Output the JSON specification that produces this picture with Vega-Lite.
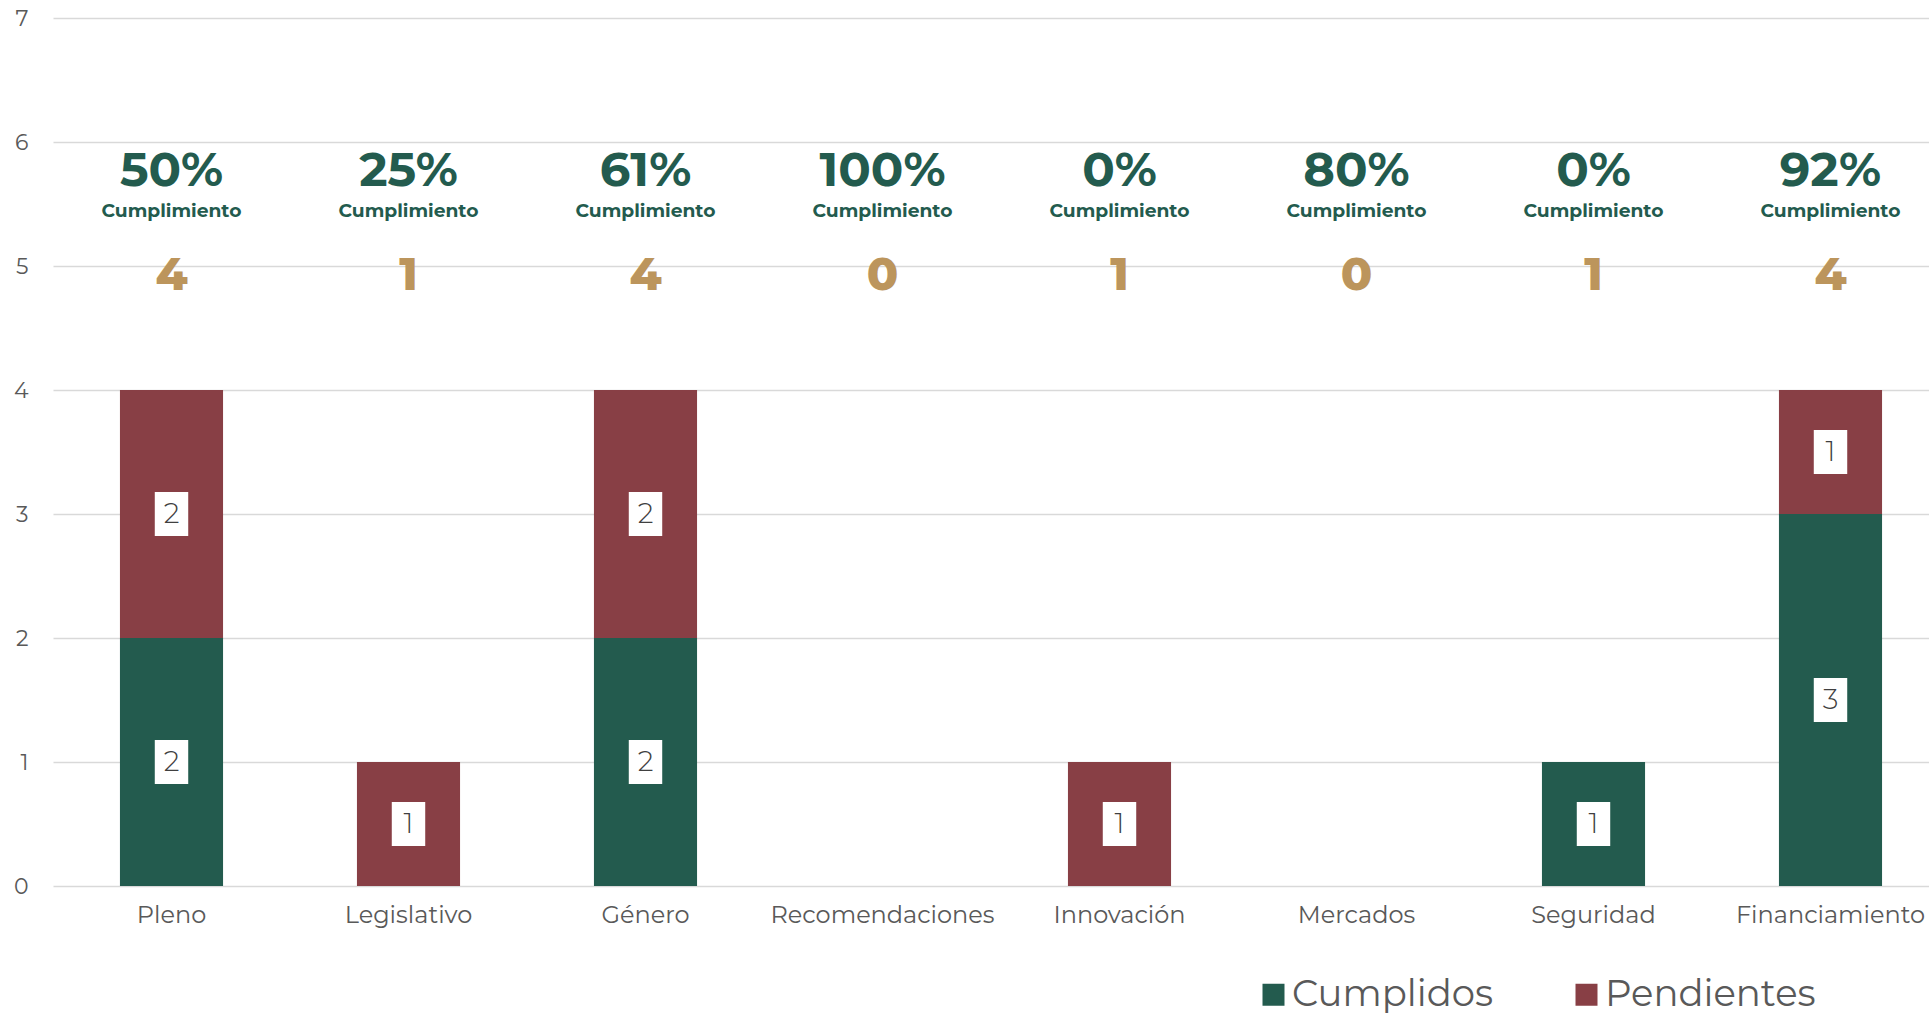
{
  "$schema": "https://vega.github.io/schema/vega-lite/v6.json",
  "width": 1876,
  "height": 868,
  "autosize": {"type": "none"},
  "padding": {"left": 53, "top": 18, "right": 0, "bottom": 131},
  "background": "white",
  "config": {"view": {"stroke": null}, "font": "Montserrat, Inter, sans-serif"},
  "datasets": {
    "seg": [
      {"cat": "Pleno", "estado": "Cumplidos", "valor": 2},
      {"cat": "Pleno", "estado": "Pendientes", "valor": 2},
      {"cat": "Legislativo", "estado": "Pendientes", "valor": 1},
      {"cat": "Género", "estado": "Cumplidos", "valor": 2},
      {"cat": "Género", "estado": "Pendientes", "valor": 2},
      {"cat": "Innovación", "estado": "Pendientes", "valor": 1},
      {"cat": "Seguridad", "estado": "Cumplidos", "valor": 1},
      {"cat": "Financiamiento", "estado": "Cumplidos", "valor": 3},
      {"cat": "Financiamiento", "estado": "Pendientes", "valor": 1}
    ],
    "cats": [
      {"cat": "Pleno", "pct": 0.5, "total": 4},
      {"cat": "Legislativo", "pct": 0.25, "total": 1},
      {"cat": "Género", "pct": 0.61, "total": 4},
      {"cat": "Recomendaciones", "pct": 1.0, "total": 0},
      {"cat": "Innovación", "pct": 0.0, "total": 1},
      {"cat": "Mercados", "pct": 0.8, "total": 0},
      {"cat": "Seguridad", "pct": 0.0, "total": 1},
      {"cat": "Financiamiento", "pct": 0.92, "total": 4}
    ]
  },
  "layer": [
    {
      "data": {"name": "seg"},
      "mark": {"type": "bar"},
      "encoding": {
        "x": {
          "field": "cat", "type": "nominal", "sort": null,
          "scale": {
            "domain": ["Pleno", "Legislativo", "Género", "Recomendaciones", "Innovación", "Mercados", "Seguridad", "Financiamiento"],
            "range": [0, 1896],
            "paddingInner": 0.565, "paddingOuter": 0.2825
          },
          "axis": {"title": null, "labelAngle": 0, "domain": false, "ticks": false, "grid": false, "labelPadding": 17, "labelFontSize": 24, "labelColor": "#595959", "labelLimit": 400}
        },
        "y": {
          "field": "valor", "type": "quantitative", "stack": "zero",
          "scale": {"domain": [0, 7], "nice": false},
          "axis": {"title": null, "values": [0, 1, 2, 3, 4, 5, 6, 7], "format": "d", "domain": false, "ticks": false, "labelPadding": 25, "labelFontSize": 22, "labelColor": "#595959", "grid": true, "gridColor": "#d9d9d9", "gridWidth": 1.5}
        },
        "color": {
          "field": "estado", "type": "nominal",
          "scale": {"domain": ["Cumplidos", "Pendientes"], "range": ["#235B4E", "#883F45"]},
          "legend": {"orient": "none", "legendX": 1202, "legendY": 958, "direction": "horizontal", "title": null, "symbolType": "square", "symbolSize": 484, "symbolStrokeWidth": 0, "labelFontSize": 37, "labelColor": "#595959", "labelOffset": 0, "columnPadding": 74, "padding": 0, "labelLimit": 400}
        },
        "order": {"field": "estado", "sort": "ascending"}
      }
    },
    {
      "data": {"name": "seg"},
      "transform": [
        {"stack": "valor", "groupby": ["cat"], "sort": [{"field": "estado", "order": "ascending"}], "as": ["v0", "v1"]},
        {"calculate": "(datum.v0 + datum.v1) / 2", "as": "mid"}
      ],
      "layer": [
        {
          "mark": {"type": "point", "shape": "M-0.76,-1L0.76,-1L0.76,1L-0.76,1Z", "filled": true, "fill": "white", "opacity": 1, "size": 1936, "strokeWidth": 0},
          "encoding": {
            "x": {"field": "cat", "type": "nominal", "sort": null},
            "y": {"field": "mid", "type": "quantitative"}
          }
        },
        {
          "mark": {"type": "text", "fontSize": 28, "fontWeight": 300, "color": "#404040", "baseline": "middle", "align": "center", "dy": 1},
          "encoding": {
            "x": {"field": "cat", "type": "nominal", "sort": null},
            "y": {"field": "mid", "type": "quantitative"},
            "text": {"field": "valor", "type": "quantitative"}
          }
        }
      ]
    },
    {
      "data": {"name": "cats"},
      "layer": [
        {
          "mark": {"type": "text", "fontSize": 48, "fontWeight": "bold", "color": "#235B4E", "baseline": "middle", "align": "center"},
          "encoding": {
            "x": {"field": "cat", "type": "nominal", "sort": null},
            "y": {"datum": 5.76},
            "text": {"field": "pct", "type": "quantitative", "format": ".0%"}
          }
        },
        {
          "mark": {"type": "text", "fontSize": 18.7, "fontWeight": "bold", "color": "#235B4E", "baseline": "middle", "align": "center"},
          "encoding": {
            "x": {"field": "cat", "type": "nominal", "sort": null},
            "y": {"datum": 5.44},
            "text": {"value": "Cumplimiento"}
          }
        },
        {
          "mark": {"type": "text", "fontSize": 46, "fontWeight": 800, "color": "#BC955C", "baseline": "middle", "align": "center"},
          "encoding": {
            "x": {"field": "cat", "type": "nominal", "sort": null},
            "y": {"datum": 4.92},
            "text": {"field": "total", "type": "quantitative"}
          }
        }
      ]
    }
  ]
}
